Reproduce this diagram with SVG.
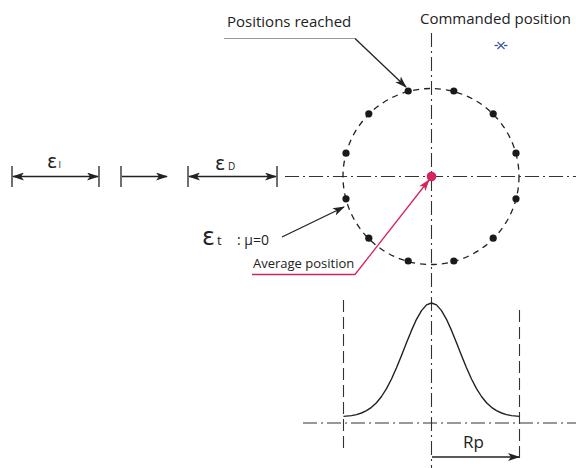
<svg xmlns="http://www.w3.org/2000/svg" width="576" height="468" viewBox="0 0 576 468">
<style>
.t{font-family:"Open Sans","Liberation Sans",sans-serif;fill:#222}
.g{font-family:"DejaVu Sans","Liberation Sans",sans-serif;fill:#222}
.dd{fill:none;stroke:#333;stroke-width:1.1;stroke-dasharray:14 4 2 4}
.dash{fill:none;stroke:#333;stroke-width:1.1;stroke-dasharray:12 5}
.ln{fill:none;stroke:#222;stroke-width:1.3}
.dot{fill:#1a1a1a}
</style>
<defs>
<marker id="ah" viewBox="0 0 12 8" refX="11" refY="4" markerWidth="12" markerHeight="8" markerUnits="userSpaceOnUse" orient="auto-start-reverse">
<path d="M0,0 L12,4 L0,8 L3,4 Z" fill="#222"/>
</marker>
<marker id="ahr" viewBox="0 0 12 8" refX="11" refY="4" markerWidth="12" markerHeight="8" markerUnits="userSpaceOnUse" orient="auto">
<path d="M0,0 L12,4 L0,8 L3,4 Z" fill="#d6245c"/>
</marker>
</defs>
<rect width="576" height="468" fill="#fff"/>

<g id="axes">
<line class="dd" x1="431.5" y1="33" x2="431.5" y2="468"/>
<line class="dd" x1="285" y1="176.5" x2="576" y2="176.5"/>
<line class="dd" x1="303" y1="423" x2="576" y2="423"/>
<line class="dash" x1="343.5" y1="300" x2="343.5" y2="451"/>
<line class="dash" x1="519.5" y1="310" x2="519.5" y2="458"/>
</g>

<g id="circle">
<circle cx="431" cy="176.5" r="88" fill="none" stroke="#222" stroke-width="1.3" stroke-dasharray="6 5"/>
<circle class="dot" cx="453.8" cy="91" r="3.6"/>
<circle class="dot" cx="493.2" cy="113.8" r="3.6"/>
<circle class="dot" cx="516" cy="153.2" r="3.6"/>
<circle class="dot" cx="516" cy="198.8" r="3.6"/>
<circle class="dot" cx="493.2" cy="238.2" r="3.6"/>
<circle class="dot" cx="453.8" cy="261" r="3.6"/>
<circle class="dot" cx="408.2" cy="261" r="3.6"/>
<circle class="dot" cx="368.8" cy="238.2" r="3.6"/>
<circle class="dot" cx="346" cy="198.8" r="3.6"/>
<circle class="dot" cx="346" cy="153.2" r="3.6"/>
<circle class="dot" cx="368.8" cy="113.8" r="3.6"/>
<circle class="dot" cx="408.2" cy="91" r="3.6"/>
<circle cx="431.5" cy="176.5" r="4.8" fill="#d6245c"/>
</g>

<g id="commanded">
<text class="t" x="420" y="24" font-size="15">Commanded position</text>
<g stroke="#3a5aa0" stroke-width="1.3" fill="none">
<line x1="497.5" y1="42" x2="504.5" y2="49"/>
<line x1="504.5" y1="42" x2="497.5" y2="49"/>
<line x1="494.5" y1="45.5" x2="498" y2="45.5"/>
<line x1="504" y1="45.5" x2="507.5" y2="45.5"/>
</g>
</g>

<g id="reached">
<text class="t" x="227" y="27" font-size="15">Positions reached</text>
</g>

<g id="average">
<text class="t" x="253" y="268" font-size="13">Average position</text>
</g>

<g id="eps-t">
<text class="g" x="202" y="245" font-size="24">ε</text>
<text class="t" x="217" y="245" font-size="13">t</text>
<text class="t" x="237" y="245" font-size="14">: μ=0</text>
</g>

<g id="dims">
<text class="g" x="47" y="168" font-size="19">ε</text>
<text class="t" x="58.5" y="168" font-size="9">I</text>
<text class="g" x="215" y="170" font-size="19">ε</text>
<text class="t" x="228" y="170" font-size="10">D</text>
<g class="ln">
<line x1="12" y1="166" x2="12" y2="187"/>
<line x1="99" y1="166" x2="99" y2="187"/>
<line x1="121" y1="166" x2="121" y2="187"/>
<line x1="188" y1="166" x2="188" y2="187"/>
<line x1="277" y1="166" x2="277" y2="187"/>
</g>
<line class="ln" x1="13" y1="176.5" x2="98" y2="176.5" marker-start="url(#ah)" marker-end="url(#ah)"/>
<line class="ln" x1="122" y1="176.5" x2="167" y2="176.5" marker-end="url(#ah)"/>
<line class="ln" x1="189" y1="176.5" x2="276" y2="176.5" marker-start="url(#ah)" marker-end="url(#ah)"/>
</g>

<g id="bell">
<polyline fill="none" stroke="#222" stroke-width="1.4" stroke-linejoin="round" points="343.5,416.4 351.5,415.6 356.5,414.6 361.5,413 366.5,410.7 371.5,407.3 376.5,402.7 381.5,396.5 386.5,388.6 391.5,379 396.5,367.8 401.5,355.5 406.5,342.7 411.5,330.4 416.5,319.3 421.5,310.6 426.5,304.9 431.5,303 436.5,304.9 441.5,310.6 446.5,319.3 451.5,330.4 456.5,342.7 461.5,355.5 466.5,367.8 471.5,379 476.5,388.6 481.5,396.5 486.5,402.7 491.5,407.3 496.5,410.7 501.5,413 506.5,414.6 511.5,415.6 519.5,416.4"/>
<text class="t" x="463" y="448" font-size="17">Rp</text>
</g>

<g id="connectors">
<line x1="224" y1="38.5" x2="355" y2="38.5" stroke="#999" stroke-width="1"/>
<line class="ln" x1="355" y1="38.5" x2="406" y2="87" marker-end="url(#ah)"/>
<line class="ln" x1="282" y1="237" x2="344" y2="207" marker-end="url(#ah)"/>
<polyline fill="none" stroke="#d6245c" stroke-width="1.3" points="252,274.5 355,274.5 429,180" marker-end="url(#ahr)"/>
<line class="ln" x1="432" y1="457" x2="519" y2="457" marker-end="url(#ah)"/>
</g>
</svg>
